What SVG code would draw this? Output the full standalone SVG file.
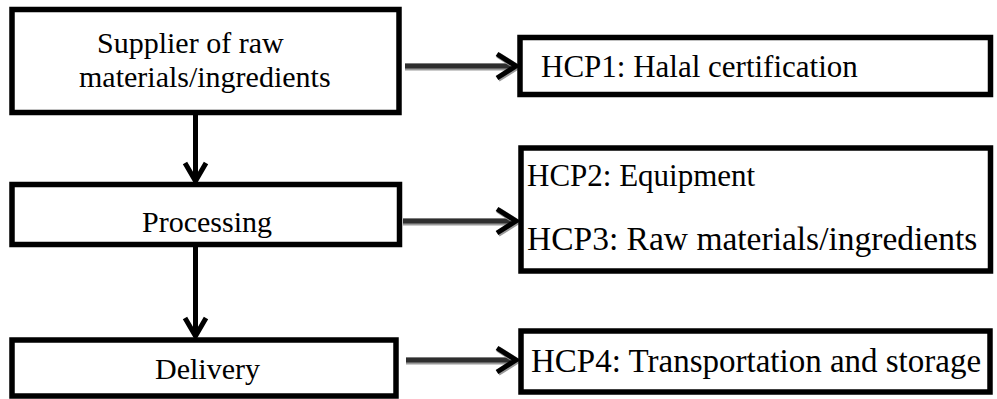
<svg xmlns="http://www.w3.org/2000/svg" width="997" height="399" viewBox="0 0 997 399">
<style>
.box{fill:#fff;stroke:#000;stroke-width:5.5}
.t{font-family:"Liberation Serif","Times New Roman",serif;font-size:30px;fill:#000}
.h{stroke:#2e2e2e;stroke-width:5;fill:none}
.hs{stroke:#9a9a9a;stroke-width:7;fill:none}
.v{stroke:#000;stroke-width:5;fill:none}
.head{stroke:#000;stroke-width:5;fill:none;stroke-linecap:butt;stroke-linejoin:miter}
.headS{stroke:#999;stroke-width:6;fill:none}
</style>
<rect width="997" height="399" fill="#fff"/>
<g id="connectors">
  <g id="a1">
    <line class="hs" x1="405" y1="67" x2="513" y2="67"/>
    <line class="h" x1="405" y1="66" x2="513" y2="66"/>
    <polyline class="headS" points="498,55 517,67 498,79"/>
    <polyline class="head" points="497,54 516,66 497,78"/>
  </g>
  <g id="a2">
    <line class="hs" x1="403" y1="222" x2="513" y2="222"/>
    <line class="h" x1="403" y1="221" x2="513" y2="221"/>
    <polyline class="headS" points="498,210 517,222 498,234"/>
    <polyline class="head" points="497,209 516,221 497,233"/>
  </g>
  <g id="a3">
    <line class="hs" x1="406" y1="361" x2="513" y2="361"/>
    <line class="h" x1="406" y1="360" x2="513" y2="360"/>
    <polyline class="headS" points="498,349 517,361 498,373"/>
    <polyline class="head" points="497,348 516,360 497,372"/>
  </g>
  <g id="v1">
    <line class="v" x1="195.5" y1="115" x2="195.5" y2="180"/>
    <polyline class="head" points="185,163 195.5,181 206,163"/>
  </g>
  <g id="v2">
    <line class="v" x1="195.5" y1="247" x2="195.5" y2="336"/>
    <polyline class="head" points="185,318 195.5,336 206,318"/>
  </g>
</g>
<g id="supplier">
  <rect class="box" x="12" y="9.5" width="387" height="103"/>
  <text class="t" x="97" y="53">Supplier of raw</text>
  <text class="t" x="79" y="87">materials/ingredients</text>
</g>
<g id="processing">
  <rect class="box" x="12" y="184.5" width="387.5" height="60"/>
  <text class="t" x="142" y="232">Processing</text>
</g>
<g id="delivery">
  <rect class="box" x="12" y="340" width="384" height="56"/>
  <text class="t" x="155" y="379">Delivery</text>
</g>
<g id="hcp1">
  <rect class="box" x="520" y="37.5" width="470.5" height="57"/>
  <text class="t" x="541" y="77" style="font-size:31px">HCP1: Halal certification</text>
</g>
<g id="hcp23">
  <rect class="box" x="521" y="148" width="469.5" height="123"/>
  <text class="t" x="527" y="186" style="font-size:31px">HCP2: Equipment</text>
  <text class="t" x="527" y="250" style="font-size:33.5px">HCP3: Raw materials/ingredients</text>
</g>
<g id="hcp4">
  <rect class="box" x="521" y="331" width="469" height="61"/>
  <text class="t" x="531" y="372" style="font-size:33px">HCP4: Transportation and storage</text>
</g>
</svg>
